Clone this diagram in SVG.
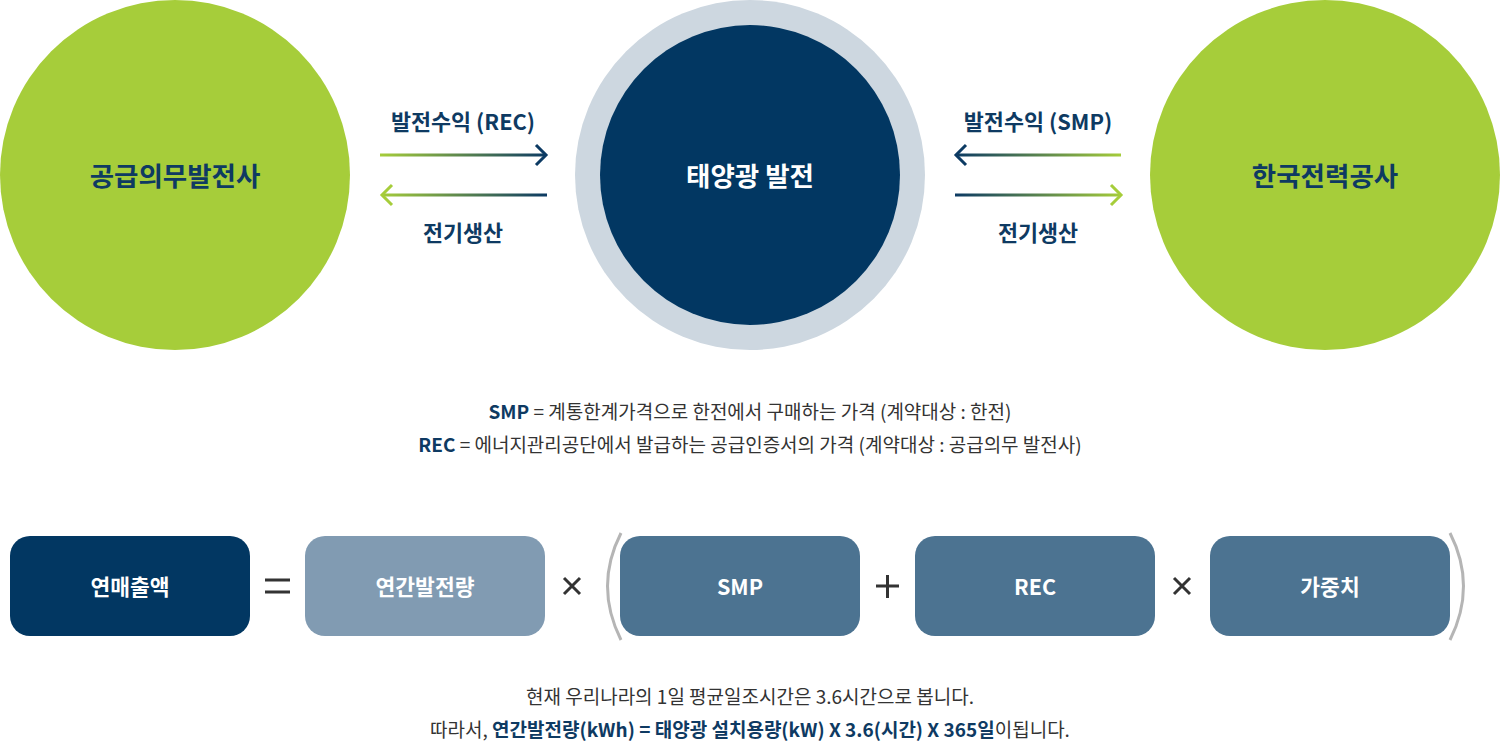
<svg xmlns="http://www.w3.org/2000/svg" width="1500" height="742" viewBox="0 0 1500 742">
<style>
text{font-family:"Noto Sans CJK KR","Noto Sans",sans-serif;}
.big{font-size:26.5px;font-weight:700;text-anchor:middle;}
.lbl{font-size:21.8px;font-weight:700;fill:#0e3a62;text-anchor:middle;}
.desc{font-size:19px;fill:#333;text-anchor:middle;}
.hl{font-weight:700;fill:#0e3a62;}
.box{font-size:21.5px;font-weight:700;fill:#fff;text-anchor:middle;}
.arr{fill:none;stroke-width:3;}
.op{stroke:#333;stroke-width:3;fill:none;}
.par{stroke:#b5b5b5;stroke-width:3;fill:none;}
</style>
<defs>
<linearGradient id="gL" gradientUnits="userSpaceOnUse" x1="380" y1="0" x2="547" y2="0">
<stop offset="0" stop-color="#a6cd3a"/><stop offset="1" stop-color="#0c3a63"/>
</linearGradient>
<linearGradient id="gR" gradientUnits="userSpaceOnUse" x1="955" y1="0" x2="1122" y2="0">
<stop offset="0" stop-color="#0c3a63"/><stop offset="1" stop-color="#a6cd3a"/>
</linearGradient>
</defs>
<g id="node-supplier">
<circle cx="175" cy="175" r="175" fill="#a6cd3a"/>
<text class="big" x="175" y="186" fill="#0e3a62">공급의무발전사</text>
</g>
<g id="node-solar">
<circle cx="750" cy="175" r="175" fill="#cdd7e0"/>
<circle cx="750" cy="175" r="150" fill="#023762"/>
<text class="big" x="750" y="186" fill="#fff">태양광 발전</text>
</g>
<g id="node-kepco">
<circle cx="1325" cy="175" r="175" fill="#a6cd3a"/>
<text class="big" x="1325" y="186" fill="#0e3a62">한국전력공사</text>
</g>
<g id="connectors">
<path class="arr" stroke="url(#gL)" d="M380 155 H546"/>
<path class="arr" stroke="#0c3a63" d="M536 145 L546 155 L536 165"/>
<path class="arr" stroke="url(#gL)" d="M382 195 H547"/>
<path class="arr" stroke="#a6cd3a" d="M392 185 L382 195 L392 205"/>
<path class="arr" stroke="url(#gR)" d="M956 155 H1121"/>
<path class="arr" stroke="#0c3a63" d="M966 145 L956 155 L966 165"/>
<path class="arr" stroke="url(#gR)" d="M955 195 H1121"/>
<path class="arr" stroke="#a6cd3a" d="M1111 185 L1121 195 L1111 205"/>
<text class="lbl" x="463" y="130">발전수익 (REC)</text>
<text class="lbl" x="463" y="241">전기생산</text>
<text class="lbl" x="1038" y="130">발전수익 (SMP)</text>
<text class="lbl" x="1038" y="241">전기생산</text>
</g>
<g id="definitions">
<text class="desc" x="750" y="419"><tspan class="hl">SMP</tspan> = 계통한계가격으로 한전에서 구매하는 가격 (계약대상 : 한전)</text>
<text class="desc" x="750" y="452"><tspan class="hl">REC</tspan> = 에너지관리공단에서 발급하는 공급인증서의 가격 (계약대상 : 공급의무 발전사)</text>
</g>
<g id="box-revenue">
<rect x="10" y="536" width="240" height="100" rx="20" fill="#023762"/>
<text class="box" x="130" y="595">연매출액</text>
</g>
<g id="box-annual">
<rect x="305" y="536" width="240" height="100" rx="20" fill="#819bb2"/>
<text class="box" x="425" y="595">연간발전량</text>
</g>
<g id="box-smp">
<rect x="620" y="536" width="240" height="100" rx="20" fill="#4c7391"/>
<text class="box" x="740" y="595">SMP</text>
</g>
<g id="box-rec">
<rect x="915" y="536" width="240" height="100" rx="20" fill="#4c7391"/>
<text class="box" x="1035" y="595">REC</text>
</g>
<g id="box-weight">
<rect x="1210" y="536" width="240" height="100" rx="20" fill="#4c7391"/>
<text class="box" x="1330" y="595">가중치</text>
</g>
<g id="operators">
<path class="op" d="M265 580 H290 M265 592 H290"/>
<path class="op" d="M564 578 L580 594 M580 578 L564 594"/>
<path class="op" d="M876 586 H899 M887.5 575 V598"/>
<path class="op" d="M1174 578 L1190 594 M1190 578 L1174 594"/>
<path class="par" d="M621 533 Q594 586 621 640"/>
<path class="par" d="M1450 533 Q1477 586 1450 640"/>
</g>
<g id="notes">
<text class="desc" x="750" y="704">현재 우리나라의 1일 평균일조시간은 3.6시간으로 봅니다.</text>
<text class="desc" x="750" y="737">따라서, <tspan class="hl">연간발전량(kWh) = 태양광 설치용량(kW) X 3.6(시간) X 365일</tspan>이됩니다.</text>
</g>
</svg>
